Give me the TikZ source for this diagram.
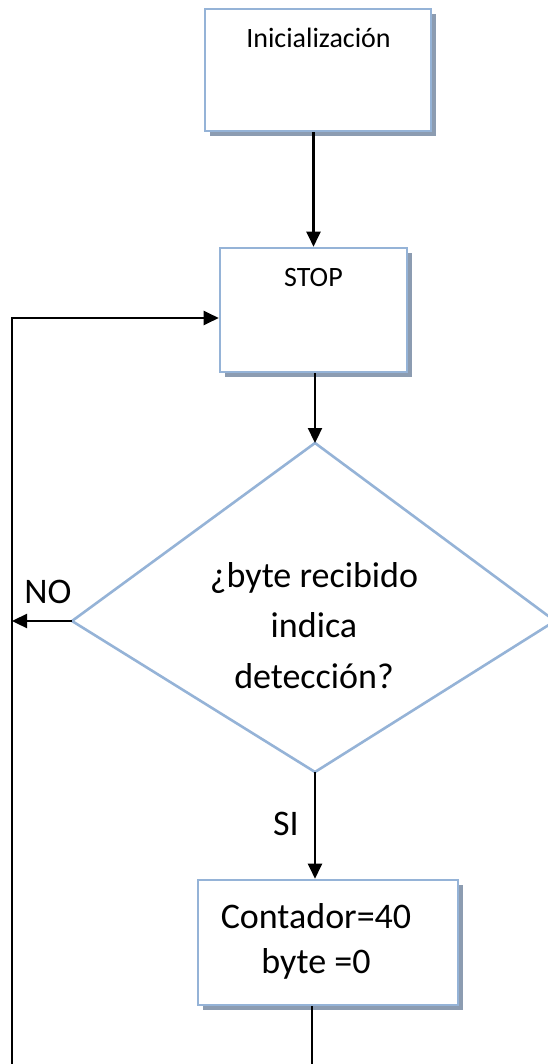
\documentclass[tikz,border=0pt]{standalone}
\usepackage{fontspec}
\setmainfont{Carlito}
\usetikzlibrary{arrows.meta,shadows}
\definecolor{boxblue}{RGB}{149,179,215}
\definecolor{shadowgray}{RGB}{140,156,177}
\begin{document}
\begin{tikzpicture}[x=1pt,y=-1pt,
  stepbox/.style={rectangle, draw=boxblue, line width=2.6pt, fill=white, inner sep=0pt,
    drop shadow={shadow xshift=5pt, shadow yshift=-5pt, fill=shadowgray, opacity=1}},
  flow/.style={line width=2.3pt, -{Triangle[length=15pt,width=14pt]}},
  plain/.style={line width=2.3pt},
  smalltxt/.style={font=\fontsize{28}{34}\selectfont, anchor=base, inner sep=0pt},
  bigtxt/.style={font=\fontsize{36}{44}\selectfont, anchor=base, inner sep=0pt}]
\useasboundingbox (0,0) rectangle (548,1064);
\clip (0,0) rectangle (548,1064);

% process boxes
\node[stepbox, minimum width=226pt, minimum height=122pt] (init) at (318,70) {};
\node[stepbox, minimum width=187pt, minimum height=124pt] (stop) at (313.5,310) {};
\node[stepbox, minimum width=260pt, minimum height=125pt] (count) at (328,942.5) {};

% decision diamond
\coordinate (dT) at (315,443);
\coordinate (dR) at (555,621);
\coordinate (dB) at (315,772);
\coordinate (dL) at (72,621);
\fill[shadowgray, shift={(4,5)}] (dT) -- (dR) -- (dB) -- (dL) -- cycle;
\draw[boxblue, line width=2.6pt, fill=white] (dT) -- (dR) -- (dB) -- (dL) -- cycle;

% texts
\node[smalltxt] (initText) at (318.5,48) {Inicialización};
\node[smalltxt] (stopText) at (313.5,287) {STOP};
\node[bigtxt] (q1) at (314,587) {¿byte recibido};
\node[bigtxt] (q2) at (314,637) {indica};
\node[bigtxt] (q3) at (314,688) {detección?};
\node[bigtxt] (c1) at (316,928) {Contador=40};
\node[bigtxt] (c2) at (316,973) {byte =0};
\node[bigtxt] (no) at (48,603) {NO};
\node[bigtxt] (si) at (286,835) {SI};

% connectors
\coordinate (loopBot) at (12,1064);
\coordinate (loopTop) at (12,318);
\coordinate (tail) at (312,1064);
\draw[flow] (stop.north |- init.south) -- (stop.north);
\draw[flow] (stop.south -| dT) -- (dT);
\draw[flow] (dB) -- (dB |- count.north);
\draw[flow] (dL) -- (dL -| loopTop);
\draw[flow] (loopBot) -- (loopTop) -- (stop.west |- loopTop);
\draw[plain] (count.south -| tail) -- (tail);
\end{tikzpicture}
\end{document}
